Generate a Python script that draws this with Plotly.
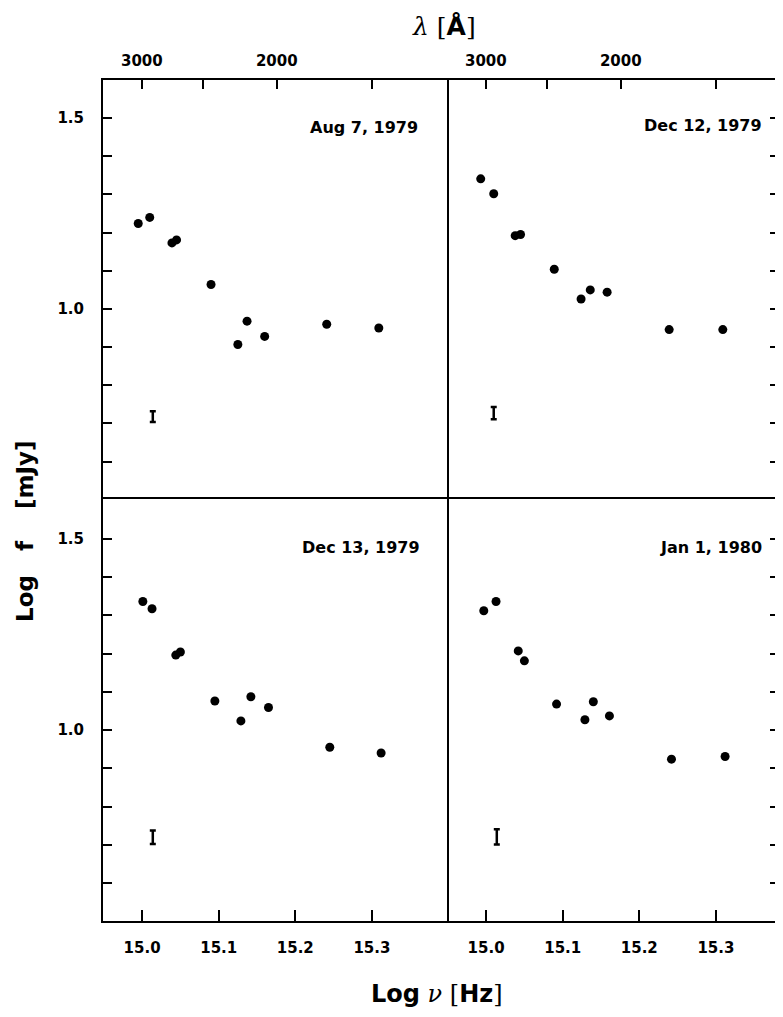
import math
import plotly.graph_objects as go

# ---- data ----
panel_titles = ["Aug 7, 1979", "Dec 12, 1979", "Dec 13, 1979", "Jan 1, 1980"]

x_aug7 = [14.995, 15.010, 15.039, 15.045, 15.090, 15.125, 15.137, 15.160, 15.241, 15.309]
y_aug7 = [1.224, 1.240, 1.173, 1.181, 1.064, 0.907, 0.968, 0.928, 0.960, 0.950]

x_dec12 = [14.993, 15.010, 15.038, 15.045, 15.089, 15.124, 15.136, 15.158, 15.239, 15.309]
y_dec12 = [1.341, 1.302, 1.192, 1.195, 1.104, 1.026, 1.050, 1.044, 0.946, 0.946]

x_dec13 = [15.001, 15.013, 15.044, 15.050, 15.095, 15.129, 15.142, 15.165, 15.245, 15.312]
y_dec13 = [1.336, 1.317, 1.196, 1.204, 1.076, 1.024, 1.087, 1.059, 0.955, 0.940]

x_jan1 = [14.997, 15.013, 15.042, 15.050, 15.092, 15.129, 15.140, 15.161, 15.242, 15.312]
y_jan1 = [1.312, 1.336, 1.207, 1.181, 1.068, 1.027, 1.074, 1.037, 0.924, 0.931]

# typical error bar drawn in each panel
err_x = [15.014, 15.010, 15.014, 15.014]
err_y = [0.718, 0.727, 0.720, 0.721]
err_half = [0.014, 0.016, 0.0175, 0.020]

freq_ticks = [15.0, 15.1, 15.2, 15.3]
freq_labels = ["15.0", "15.1", "15.2", "15.3"]
flux_ticks = [0.6, 0.7, 0.8, 0.9, 1.0, 1.1, 1.2, 1.3, 1.4, 1.5]
flux_labels = ["", "", "", "", "1.0", "", "", "", "", "1.5"]
wave_ticks_A = [3000, 2500, 2000, 1500]
wave_labels = ["3000", "", "2000", ""]

C_ANGSTROM = 2.998e18
wave_pos = [math.log10(C_ANGSTROM / w) for w in wave_ticks_A]

# ---- figure geometry (page has an 8 px body margin on every side) ----
OFF = 8
PAGE_W, PAGE_H = 783, 1017
W, H = PAGE_W - 2 * OFF, PAGE_H - 2 * OFF
# targets in page pixels
P_LEFT, P_TOP, P_MIDX, P_MIDY, P_BOT = 103, 80, 447, 499, 921
ML = P_LEFT - OFF
MT = P_TOP - OFF
MR = 0
MB = (H + OFF) - P_BOT
PW = W - ML - MR
PH = H - MT - MB
split_x = (P_MIDX - P_LEFT) / PW
split_y = (P_BOT - P_MIDY) / PH


def px_x(page_x):
    return (page_x - P_LEFT) / PW


def px_y(page_y):
    return (P_BOT - page_y) / PH


XR_L = [14.949, 15.398]
XR_R = [14.949, 14.949 + (XR_L[1] - XR_L[0]) * (1 - split_x) / split_x]
YR_T = [0.502, 1.600]
YR_B = [0.501, 1.604]

FONT = "DejaVu Sans"
tickfont = dict(family=FONT, size=15, color="black", weight=700)

fig = go.Figure()

panels = [
    (x_aug7, y_aug7, "x", "y"),
    (x_dec12, y_dec12, "x2", "y2"),
    (x_dec13, y_dec13, "x3", "y3"),
    (x_jan1, y_jan1, "x4", "y4"),
]
for i, (xs, ys, xa, ya) in enumerate(panels):
    fig.add_trace(go.Scatter(
        x=xs, y=ys, xaxis=xa, yaxis=ya, mode="markers",
        marker=dict(size=9, color="black"), showlegend=False, hoverinfo="skip"))
    fig.add_trace(go.Scatter(
        x=[err_x[i]], y=[err_y[i]], xaxis=xa, yaxis=ya, mode="markers",
        marker=dict(size=1, color="rgba(0,0,0,0)"),
        error_y=dict(type="data", array=[err_half[i]], visible=True,
                     color="black", thickness=2.5, width=3),
        showlegend=False, hoverinfo="skip"))

# invisible traces so the wavelength axes are drawn
fig.add_trace(go.Scatter(x=[15.0], y=[1.0], xaxis="x5", yaxis="y", mode="markers",
                         marker=dict(size=1, color="rgba(0,0,0,0)"), showlegend=False, hoverinfo="skip"))
fig.add_trace(go.Scatter(x=[15.0], y=[1.0], xaxis="x6", yaxis="y2", mode="markers",
                         marker=dict(size=1, color="rgba(0,0,0,0)"), showlegend=False, hoverinfo="skip"))

line_common = dict(showline=True, linecolor="black", linewidth=2, mirror=True,
                   showgrid=False, zeroline=False)
no_line = dict(showline=False, showgrid=False, zeroline=False)

fig.update_layout(
    xaxis=dict(domain=[0, split_x], range=XR_L, anchor="y", ticks="", showticklabels=False, **no_line),
    xaxis2=dict(domain=[split_x, 1], range=XR_R, anchor="y2", ticks="", showticklabels=False, **no_line),
    xaxis3=dict(domain=[0, split_x], range=XR_L, anchor="y3", tickvals=freq_ticks, ticktext=freq_labels,
                ticks="inside", ticklen=11, tickwidth=2, tickcolor="black", tickfont=tickfont,
                ticklabelstandoff=12, **line_common),
    xaxis4=dict(domain=[split_x, 1], range=XR_R, anchor="y4", tickvals=freq_ticks, ticktext=freq_labels,
                ticks="inside", ticklen=11, tickwidth=2, tickcolor="black", tickfont=tickfont,
                ticklabelstandoff=12, **line_common),
    xaxis5=dict(overlaying="x", anchor="y", side="top", range=XR_L, tickvals=wave_pos, ticktext=wave_labels,
                ticks="inside", ticklen=9, tickwidth=2, tickcolor="black", tickfont=tickfont,
                ticklabelstandoff=6, showline=True, linecolor="black", linewidth=2,
                showgrid=False, zeroline=False),
    xaxis6=dict(overlaying="x2", anchor="y2", side="top", range=XR_R, tickvals=wave_pos, ticktext=wave_labels,
                ticks="inside", ticklen=9, tickwidth=2, tickcolor="black", tickfont=tickfont,
                ticklabelstandoff=6, showline=True, linecolor="black", linewidth=2,
                showgrid=False, zeroline=False),
    yaxis=dict(domain=[split_y, 1], range=YR_T, anchor="x", tickvals=flux_ticks, ticktext=flux_labels,
               ticks="inside", ticklen=9, tickwidth=2, tickcolor="black", tickfont=tickfont,
               ticklabelstandoff=14, **line_common),
    yaxis2=dict(domain=[split_y, 1], range=YR_T, anchor="x2", side="right", tickvals=flux_ticks,
                showticklabels=False, ticks="inside", ticklen=5, tickwidth=2, tickcolor="black", **no_line),
    yaxis3=dict(domain=[0, split_y], range=YR_B, anchor="x3", tickvals=flux_ticks, ticktext=flux_labels,
                ticks="inside", ticklen=9, tickwidth=2, tickcolor="black", tickfont=tickfont,
                ticklabelstandoff=14, **line_common),
    yaxis4=dict(domain=[0, split_y], range=YR_B, anchor="x4", side="right", tickvals=flux_ticks,
                showticklabels=False, ticks="inside", ticklen=5, tickwidth=2, tickcolor="black", **no_line),
)

# panel date labels
label_pos = [("x", "y", 15.3625, 1.475), ("x2", "y2", 15.3633, 1.482),
             ("x3", "y3", 15.366, 1.478), ("x4", "y4", 15.363, 1.478)]
for (xr, yr, ax, ay), t in zip(label_pos, panel_titles):
    fig.add_annotation(x=ax, y=ay, xref=xr, yref=yr, text=t, showarrow=False,
                       xanchor="right", yanchor="middle",
                       font=dict(family=FONT, size=16, color="black", weight=700))

serif = "font-family:'DejaVu Serif';font-weight:normal"
NB = "\u00a0"
fig.add_annotation(x=px_x(444), y=px_y(26), xref="paper", yref="paper",
                   text=f"<span style=\"{serif}\"><i>λ</i> [</span><b>Å</b><span style=\"{serif}\">]</span>",
                   showarrow=False, xanchor="center", yanchor="middle",
                   font=dict(family=FONT, size=25, color="black"))
fig.add_annotation(x=px_x(437), y=px_y(994), xref="paper", yref="paper",
                   text=f"<b>Log</b> <span style=\"{serif}\"><i>ν</i> [</span><b>Hz</b><span style=\"{serif}\">]</span>",
                   showarrow=False, xanchor="center", yanchor="middle",
                   font=dict(family=FONT, size=24, color="black"))
fig.add_annotation(x=px_x(25), y=px_y(531), xref="paper", yref="paper",
                   text=f"<b>Log{NB * 3}f{NB * 4}[mJy]</b>", textangle=-90,
                   showarrow=False, xanchor="center", yanchor="middle",
                   font=dict(family=FONT, size=23, color="black"))

fig.update_layout(width=W, height=H, margin=dict(l=ML, r=MR, t=MT, b=MB),
                  paper_bgcolor="white", plot_bgcolor="white", showlegend=False)

fig.write_html("out.html")
